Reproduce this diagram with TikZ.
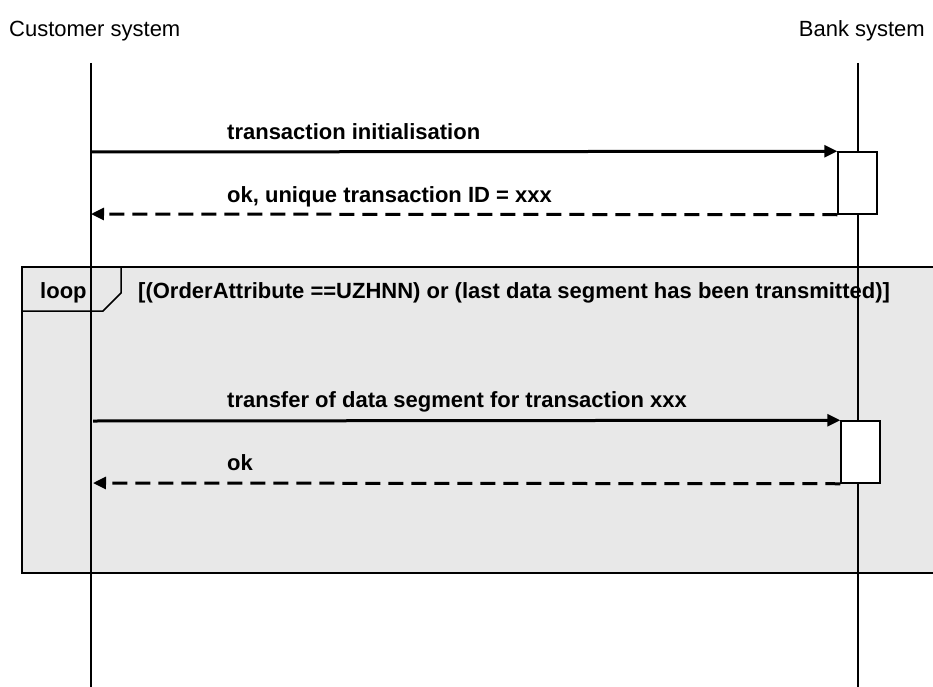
\documentclass[tikz,border=0pt]{standalone}
\usepackage{fontspec}
\setmainfont{Liberation Sans}
\usetikzlibrary{arrows.meta}

\begin{document}
\begin{tikzpicture}[x=1pt, y=-1pt,
        headtext/.style={inner sep=0pt, font=\fontsize{22}{26}\selectfont},
        msgtext/.style={anchor=base west, inner sep=0pt, font=\fontsize{22}{26}\selectfont\bfseries},
        lifeline/.style={line width=1.5pt},
        actbox/.style={draw, fill=white, line width=1.5pt, minimum width=39pt, minimum height=62pt, inner sep=0pt},
        msg/.style={line width=3pt, -{Triangle[length=13pt,width=12pt]}},
        reply/.style={msg, dash pattern=on 15pt off 8pt}]
        \useasboundingbox (0,0) rectangle (933,687);

        % Coordinates
        \coordinate (CT) at (91,63);
        \coordinate (CB) at (91,687);
        \coordinate (BT) at (858,63);
        \coordinate (BB) at (858,687);
        \coordinate (M1) at (91,152);
        \coordinate (M2) at (91,214);
        \coordinate (M3) at (93,421);
        \coordinate (M4) at (93,483);
        \coordinate (F1) at (933,267);
        \coordinate (F2) at (22,267);
        \coordinate (F3) at (22,573);
        \coordinate (F4) at (933,573);
        \coordinate (T1) at (121,267);
        \coordinate (T2) at (121,293);
        \coordinate (T3) at (103,311);
        \coordinate (T4) at (22,311);

        % Loop frame
        \fill[gray!18] (F2) rectangle (F4);
        \draw[line width=1.8pt] (F1) -- (F2) -- (F3) -- (F4);
        \draw[line width=1.5pt] (T1) -- (T2) -- (T3) -- (T4);

        % Texts
        \node[headtext, anchor=base west] (cust) at (9,37) {Customer system};
        \node[headtext, anchor=base east] (bank) at (925,37) {Bank system};
        \node[msgtext] (init) at (227,140) {transaction initialisation};
        \node[msgtext] (okid) at (227,202) {ok, unique transaction ID = xxx};
        \node[msgtext] (loop) at (40,298) {loop};
        \node[msgtext] (cond) at (138,298) {[(OrderAttribute ==UZHNN) or (last data segment has been transmitted)]};
        \node[msgtext] (xfer) at (227,407) {transfer of data segment for transaction xxx};
        \node[msgtext] (ok) at (227,470) {ok};

        % Lifelines
        \draw[lifeline] (CT) -- (CB);
        \draw[lifeline] (BT) -- (BB);

        % Activations
        \node[actbox] (act1) at (857.5,183) {};
        \node[actbox] (act2) at (860.5,452) {};

        % Messages
        \draw[msg] (M1) -- (act1.north west);
        \draw[reply] (act1.south west) -- (M2);
        \draw[msg] (M3) -- (act2.north west);
        \draw[reply] (act2.south west) -- (M4);
\end{tikzpicture}
\end{document}
